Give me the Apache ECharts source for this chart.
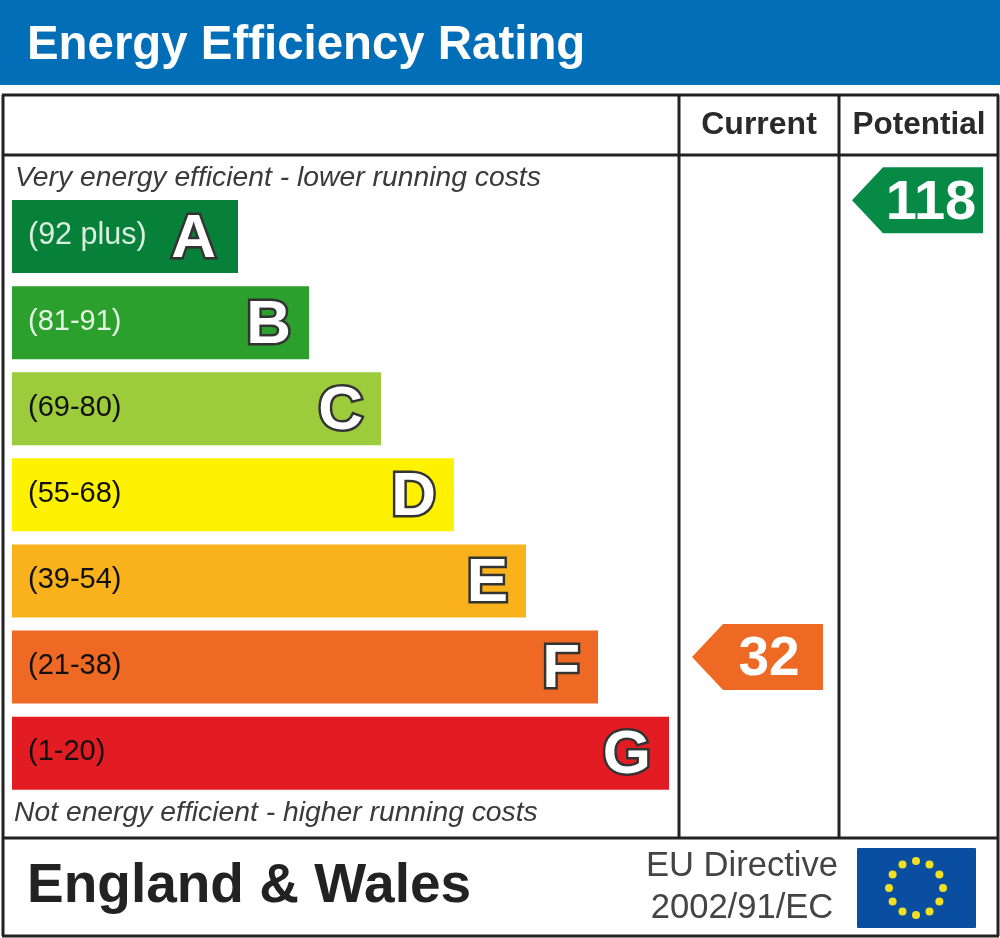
<!DOCTYPE html>
<html><head><meta charset="utf-8">
<style>html,body{margin:0;padding:0;background:#fff}#c{width:1000px;height:938px}</style>
<script src="https://cdn.jsdelivr.net/npm/echarts@6/dist/echarts.min.js"></script>
</head><body><div id="c"></div>
<script>
const bands = ['A','B','C','D','E','F','G'];
const ranges = ['(92 plus)','(81-91)','(69-80)','(55-68)','(39-54)','(21-38)','(1-20)'];
const barLengths = [226,297,369,442,514,586,657];
const bandColors = ['#078139','#2ca02c','#9ccb3b','#fff200','#f9b11c','#ee6a24','#e31b23'];
const rangeColors = ['#d8efe0','#e4f4e4','#111','#111','#111','#111','#111'];
const columns = ['Current','Potential'];
const ratings = [32,118];
const ratingColors = ['#ee6a24','#078a45'];
const FONT = '"Liberation Sans", Arial, sans-serif';

const chart = echarts.init(document.getElementById('c'), null, {renderer:'canvas'});

const lines = [[2,95,999,95],[2,155,999,155],[2,838,999,838],[2,936,999,936],[3,95,3,936],[998,95,998,936],[679,95,679,838],[839,95,839,838]];
const graphic = [
  {type:'rect',z:-1,shape:{x:0,y:0,width:1000,height:85},style:{fill:'#036eb8'}},
  {type:'text',x:27,y:46,style:{text:'Energy Efficiency Rating',fill:'#fff',font:'bold 47.4px '+FONT,textVerticalAlign:'middle'}},
  {type:'text',x:759,y:125,style:{text:'Current',fill:'#2a2a2a',font:'bold 32px '+FONT,textAlign:'center',textVerticalAlign:'middle'}},
  {type:'text',x:919,y:125,style:{text:'Potential',fill:'#2a2a2a',font:'bold 31.5px '+FONT,textAlign:'center',textVerticalAlign:'middle'}},
  {type:'text',x:15,y:178,style:{text:'Very energy efficient - lower running costs',fill:'#3a3a3a',font:'italic 28.3px '+FONT,textVerticalAlign:'middle'}},
  {type:'text',x:14,y:813,style:{text:'Not energy efficient - higher running costs',fill:'#3a3a3a',font:'italic 28.3px '+FONT,textVerticalAlign:'middle'}},
  {type:'text',x:27,y:887,style:{text:'England & Wales',fill:'#222',font:'bold 55px '+FONT,textVerticalAlign:'middle'}},
  {type:'text',x:742,y:866,style:{text:'EU Directive',fill:'#444',font:'34.6px '+FONT,textAlign:'center',textVerticalAlign:'middle'}},
  {type:'text',x:742,y:908,style:{text:'2002/91/EC',fill:'#444',font:'34.6px '+FONT,textAlign:'center',textVerticalAlign:'middle'}},
  {type:'rect',shape:{x:857,y:848,width:119,height:80,r:1},style:{fill:'#0a4ea2'}}
];
lines.forEach(l=>graphic.push({type:'line',shape:{x1:l[0],y1:l[1],x2:l[2],y2:l[3]},style:{stroke:'#222',lineWidth:3}}));
for(let i=0;i<12;i++){
  const a=i*Math.PI/6;
  graphic.push({type:'circle',shape:{cx:916+27*Math.sin(a),cy:888-27*Math.cos(a),r:4},style:{fill:'#f0e020'}});
}

chart.setOption({
  animation:false,
  backgroundColor:'#fff',
  graphic:{elements:graphic},
  grid:[
    {left:12,top:193.5,width:657,height:602.7},
    {left:679,top:155,width:320,height:683}
  ],
  xAxis:[
    {gridIndex:0,type:'value',min:0,max:657,show:false},
    {gridIndex:1,type:'category',data:columns,show:false}
  ],
  yAxis:[
    {gridIndex:0,type:'category',data:bands,inverse:true,show:false},
    {gridIndex:1,type:'value',min:-2.1,max:126.5,show:false}
  ],
  series:[
    {type:'bar',xAxisIndex:0,yAxisIndex:0,barWidth:73,barGap:'-100%',silent:true,
      data:barLengths.map((v,i)=>({value:v,itemStyle:{color:bandColors[i]},
        label:{show:true,position:'insideLeft',distance:16,offset:[0,-1],formatter:ranges[i],color:rangeColors[i],fontFamily:FONT,fontSize:i?29:30.5}}))},
    {type:'bar',xAxisIndex:0,yAxisIndex:0,barWidth:73,barGap:'-100%',silent:true,z:3,
      itemStyle:{color:'transparent'},
      data:barLengths.map((v,i)=>({value:v,
        label:{show:true,position:'insideRight',distance:18,offset:[i?0:-4,3],formatter:bands[i],color:'#fff',fontFamily:FONT,fontWeight:'bold',fontSize:62,textBorderColor:'#333',textBorderWidth:5}}))},
    {type:'custom',xAxisIndex:1,yAxisIndex:1,silent:true,
      data:ratings.map((r,i)=>[i,r]),
      renderItem(params,api){
        const p=api.coord([api.value(0),api.value(1)]);
        const x=p[0],y=p[1],i=params.dataIndex;
        return {type:'group',children:[
          {type:'polygon',shape:{points:[[x-67,y],[x-36,y-33],[x+64,y-33],[x+64,y+33],[x-36,y+33]]},style:{fill:ratingColors[i]}},
          {type:'text',x:x+(i?12:10),y:y+3,style:{text:String(ratings[i]),fill:'#fff',font:'bold '+(i?56:55)+'px '+FONT,textAlign:'center',textVerticalAlign:'middle'}}
        ]};
      }}
  ]
});
</script></body></html>
